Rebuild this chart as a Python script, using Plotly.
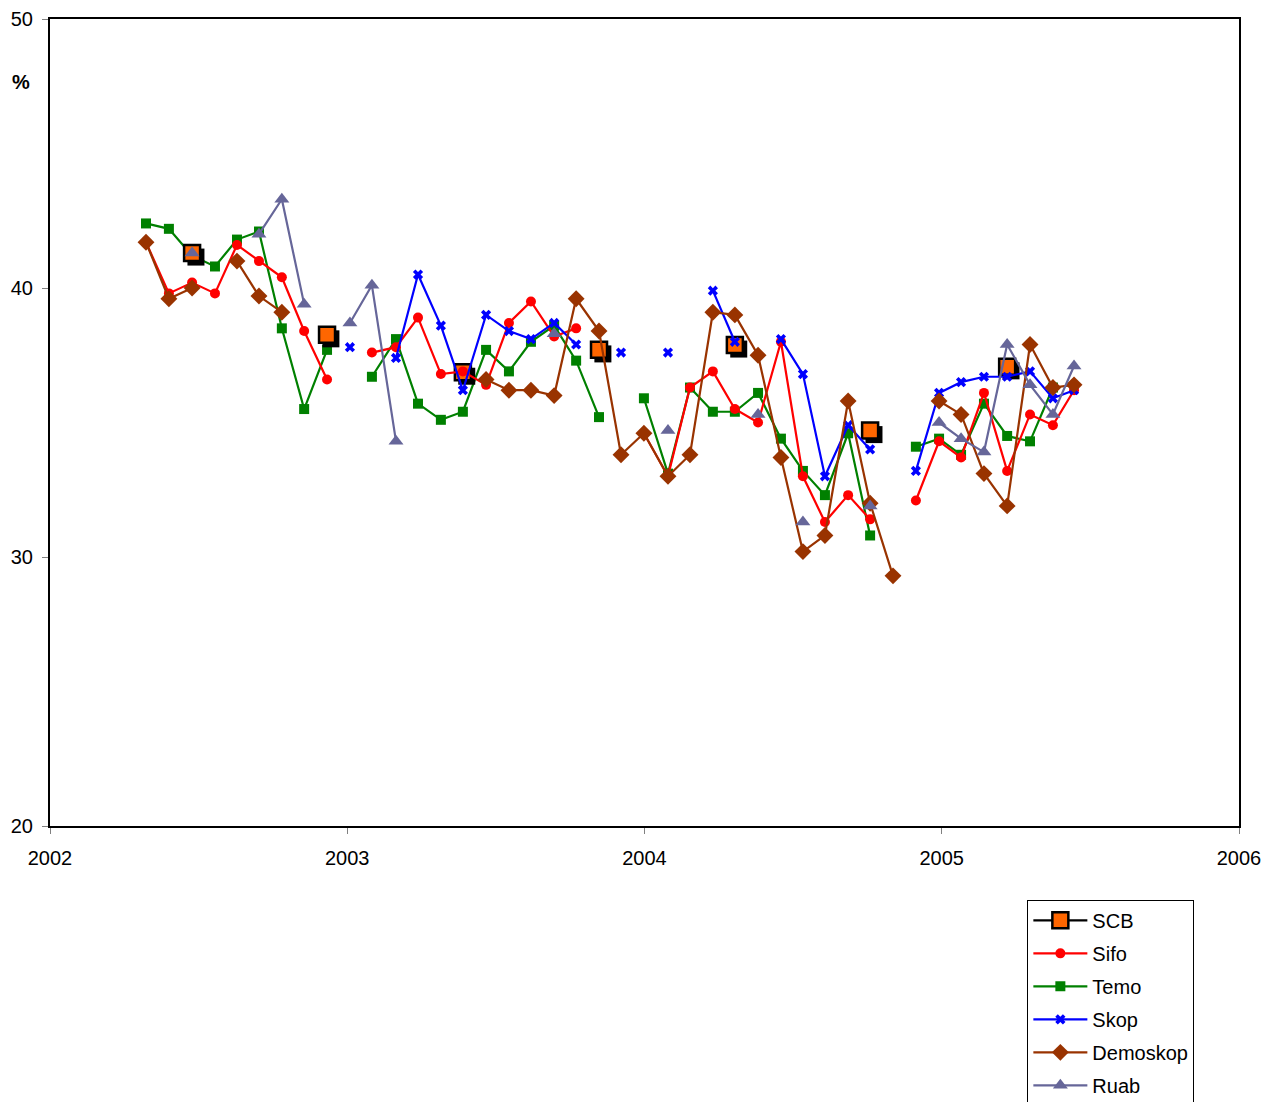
import plotly.graph_objects as go

# Decimal-year positions of the survey points
x_dates = [2002.323, 2002.400, 2002.478, 2002.555, 2002.629, 2002.703, 2002.780, 2002.855,
           2002.932, 2003.009, 2003.083, 2003.164, 2003.238, 2003.315, 2003.389, 2003.467,
           2003.544, 2003.618, 2003.696, 2003.770, 2003.847, 2003.921, 2003.998, 2004.079,
           2004.153, 2004.230, 2004.304, 2004.382, 2004.459, 2004.533, 2004.607, 2004.685,
           2004.759, 2004.836, 2004.913, 2004.991, 2005.065, 2005.142, 2005.220, 2005.297,
           2005.374, 2005.445]

N = None
scb = [N, N, 41.3, N, N, N, N, N, 38.26, N, N, N, N, N, 36.87, N, N, N, N, N, 37.7, N,
       N, N, N, N, 37.88, N, N, N, N, N, 34.7, N, N, N, N, N, 37.07, N, N, N]
sifo = [41.7, 39.8, 40.2, 39.8, 41.6, 41.0, 40.4, 38.4, 36.6, N, 37.6, 37.8, 38.9, 36.8,
        36.9, 36.4, 38.7, 39.5, 38.2, 38.5, N, N, 34.6, 33.0, 36.3, 36.9, 35.5, 35.0,
        38.0, 33.0, 31.3, 32.3, 31.4, N, 32.1, 34.3, 33.7, 36.1, 33.2, 35.3, 34.9, 36.2]
temo = [42.4, 42.2, 41.2, 40.8, 41.8, 42.1, 38.5, 35.5, 37.7, N, 36.7, 38.1, 35.7, 35.1,
        35.4, 37.7, 36.9, 38.0, 38.6, 37.3, 35.2, N, 35.9, 33.1, 36.3, 35.4, 35.4, 36.1,
        34.4, 33.2, 32.3, 34.6, 30.8, N, 34.1, 34.4, 33.8, 35.7, 34.5, 34.3, 36.3, N]
skop = [N, N, N, N, N, N, N, N, N, 37.8, N, 37.4, 40.5, 38.6, 36.2, 39.0, 38.4, 38.1,
        38.7, 37.9, N, 37.6, N, 37.6, N, 39.9, 38.0, N, 38.1, 36.8, 33.0, 34.9, 34.0, N,
        33.2, 36.1, 36.5, 36.7, 36.7, 36.9, 35.9, 36.2]
demoskop = [41.7, 39.6, 40.0, N, 41.0, 39.7, 39.1, N, N, N, N, N, N, N, N, 36.6, 36.2,
            36.2, 36.0, 39.6, 38.4, 33.8, 34.6, 33.0, 33.8, 39.1, 39.0, 37.5, 33.7, 30.2,
            30.8, 35.8, 32.0, 29.3, N, 35.8, 35.3, 33.1, 31.9, 37.9, 36.3, 36.4]
ruab = [N, N, 41.3, N, N, 42.0, 43.3, 39.4, N, 38.7, 40.1, 34.3, N, N, N, N, N, N, 38.3,
        N, N, N, N, 34.7, N, N, N, 35.3, N, 31.3, N, N, 31.9, N, N, 35.0, 34.4, 33.9,
        37.9, 36.4, 35.3, 37.1]

x_ticks = [2002, 2003, 2004, 2005, 2006]
y_ticks = [20, 30, 40, 50]

FONT = "Liberation Sans, Arial, sans-serif"
LW = 2.2

fig = go.Figure()

# Temo drawn first (it lies beneath the SCB marker)
fig.add_trace(go.Scatter(x=x_dates, y=temo, name="Temo", mode="lines+markers",
                         line=dict(color="#008000", width=LW),
                         marker=dict(symbol="square", size=10, color="#008000"),
                         legendrank=3, legendgroup="temo"))

# SCB shadow (same data, shifted slightly right/down)
shadow_x = [v + 0.013 for v in x_dates]
shadow_y = [v - 0.15 if v is not None else None for v in scb]
fig.add_trace(go.Scatter(x=shadow_x, y=shadow_y, mode="markers", showlegend=False,
                         hoverinfo="skip",
                         marker=dict(symbol="square", size=17, color="black")))
fig.add_trace(go.Scatter(x=x_dates, y=scb, name="SCB", mode="lines+markers",
                         line=dict(color="black", width=LW),
                         marker=dict(symbol="square", size=16, color="#FF6600",
                                     line=dict(color="black", width=2.5)),
                         legendrank=1, legendgroup="scb"))
fig.add_trace(go.Scatter(x=x_dates, y=sifo, name="Sifo", mode="lines+markers",
                         line=dict(color="#FF0000", width=LW),
                         marker=dict(symbol="circle", size=10, color="#FF0000"),
                         legendrank=2, legendgroup="sifo"))
fig.add_trace(go.Scatter(x=x_dates, y=skop, name="Skop", mode="lines+markers",
                         line=dict(color="#0000FF", width=LW),
                         marker=dict(symbol="x", size=9, color="#0000FF"),
                         legendrank=4, legendgroup="skop"))
fig.add_trace(go.Scatter(x=x_dates, y=demoskop, name="Demoskop", mode="lines+markers",
                         line=dict(color="#993300", width=LW),
                         marker=dict(symbol="diamond", size=13, color="#993300"),
                         legendrank=5, legendgroup="demoskop"))
fig.add_trace(go.Scatter(x=x_dates, y=ruab, name="Ruab", mode="lines+markers",
                         line=dict(color="#666699", width=LW),
                         marker=dict(symbol="triangle-up", size=13, color="#666699"),
                         legendrank=6, legendgroup="ruab"))

fig.update_layout(
    width=1276, height=1102,
    margin=dict(l=50, r=37, t=19, b=276, autoexpand=False),
    paper_bgcolor="white", plot_bgcolor="white",
    font=dict(family=FONT, size=20, color="black"),
    showlegend=True,
    legend=dict(x=0.822, y=-0.0915, xanchor="left", yanchor="top",
                bordercolor="black", borderwidth=1, bgcolor="white",
                font=dict(family=FONT, size=20, color="black"),
                tracegroupgap=4, itemwidth=54),
    annotations=[dict(text="<b>%</b>", x=-0.024, y=0.922, xref="paper", yref="paper",
                      xanchor="center", yanchor="middle",
                      showarrow=False, font=dict(family=FONT, size=20, color="black"))],
)
fig.update_xaxes(range=[2002, 2006], tickvals=x_ticks, ticktext=[str(t) for t in x_ticks],
                 showgrid=False, zeroline=False, showline=True, linecolor="black",
                 linewidth=2, mirror=True, ticks="outside", ticklen=6, tickcolor="gray",
                 tickwidth=1, automargin=False, ticklabelstandoff=7)
fig.update_yaxes(range=[20, 50], tickvals=y_ticks, showgrid=False, zeroline=False,
                 showline=True, linecolor="black", linewidth=2, mirror=True,
                 ticks="outside", ticklen=6, tickcolor="gray", tickwidth=1,
                 ticklabelstandoff=5, automargin=False)

fig.write_html("out.html", config={"displayModeBar": False},
               post_script="document.body.style.margin='0px';"
                           "document.body.style.overflow='hidden';")
